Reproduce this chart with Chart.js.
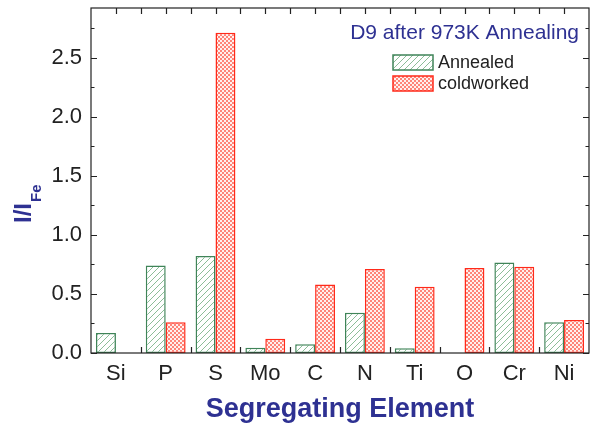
<!DOCTYPE html>
<html>
<head>
<meta charset="utf-8">
<script src="https://cdn.jsdelivr.net/npm/chart.js@4.4.0/dist/chart.umd.min.js"></script>
<style>
  html, body { margin: 0; padding: 0; background: #fff; }
  #wrap { width: 590px; height: 429px; position: relative; }
</style>
</head>
<body>
<div id="wrap"><canvas id="chart"></canvas></div>
<script>
// Segregation ratios, element peak intensity over Fe
const elements = ["Si", "P", "S", "Mo", "C", "N", "Ti", "O", "Cr", "Ni"];
const annealed = [0.17, 0.74, 0.82, 0.045, 0.075, 0.34, 0.04, 0, 0.765, 0.26];
const coldworked = [0, 0.26, 2.71, 0.12, 0.58, 0.71, 0.56, 0.72, 0.73, 0.28];
const yTicks = [0, 0.5, 1.0, 1.5, 2.0, 2.5];

const GREEN = "#3f8458";
const HATCH = "#8cbd98";
const RED = "#ff2a1a";
const BLUE = "#2e3192";
const FONT = "'Liberation Sans', Arial, sans-serif";

function hatchPattern() {
    const c = document.createElement("canvas");
    c.width = 6; c.height = 6;
    const g = c.getContext("2d");
    g.fillStyle = "#fff";
    g.fillRect(0, 0, 6, 6);
    g.strokeStyle = HATCH;
    g.lineWidth = 1;
    g.beginPath();
    g.moveTo(-1, 7); g.lineTo(7, -1);
    g.moveTo(-1, 1); g.lineTo(1, -1);
    g.moveTo(5, 7); g.lineTo(7, 5);
    g.stroke();
    return g.createPattern(c, "repeat");
}

function checkPattern() {
    const c = document.createElement("canvas");
    c.width = 4; c.height = 4;
    const g = c.getContext("2d");
    g.fillStyle = "#ff8478";
    g.fillRect(0, 0, 4, 4);
    g.fillStyle = "#fff0ee";
    g.fillRect(0, 0, 2, 2);
    g.fillRect(2, 2, 2, 2);
    return g.createPattern(c, "repeat");
}

const hatch = hatchPattern();
const check = checkPattern();

// frame, inward ticks, y title with subscript, header and legend
const decor = {
    id: "decor",
    afterDraw(chart) {
        const ctx = chart.ctx;
        const { left, right, top, bottom } = chart.chartArea;
        const x = chart.scales.x, y = chart.scales.y;
        ctx.save();
        ctx.strokeStyle = "#222";
        ctx.lineWidth = 1.2;
        ctx.strokeRect(left, top, right - left, bottom - top);

        ctx.beginPath();
        for (let v = 0; v <= 2.9; v += 0.25) {
            const py = Math.round(y.getPixelForValue(v)) + 0.5;
            const len = Math.abs(v * 2 - Math.round(v * 2)) < 1e-6 ? 6 : 3.5;
            ctx.moveTo(left, py); ctx.lineTo(left + len, py);
            ctx.moveTo(right, py); ctx.lineTo(right - len, py);
        }
        const step = (x.getPixelForValue(1) - x.getPixelForValue(0));
        for (let i = 0; i < elements.length; i++) {
            const cx = x.getPixelForValue(i);
            const bx = Math.round(cx + step / 2) + 0.5;
            const mx = Math.round(cx) + 0.5;
            if (i < elements.length - 1) {
                ctx.moveTo(bx, bottom); ctx.lineTo(bx, bottom - 6);
                ctx.moveTo(bx, top); ctx.lineTo(bx, top + 6);
            }
            ctx.moveTo(mx, top); ctx.lineTo(mx, top + 6);
        }
        ctx.stroke();

        // y title: I/I_Fe
        ctx.fillStyle = BLUE;
        ctx.translate(31, 223);
        ctx.rotate(-Math.PI / 2);
        ctx.font = "bold 24px " + FONT;
        ctx.textBaseline = "alphabetic";
        ctx.textAlign = "left";
        ctx.fillText("I/I", 0, 0);
        const w = ctx.measureText("I/I").width;
        ctx.font = "bold 15px " + FONT;
        ctx.fillText("Fe", w + 1, 10);
        ctx.setTransform(1, 0, 0, 1, 0, 0);

        // x title
        ctx.font = "bold 27px " + FONT;
        ctx.textAlign = "center";
        ctx.textBaseline = "middle";
        ctx.fillText("Segregating Element", (left + right) / 2, 410);

        // header
        ctx.font = "21px " + FONT;
        ctx.textAlign = "right";
        ctx.fillText("D9 after 973K Annealing", 579, 33);

        // legend
        const items = [
            { label: "Annealed", fill: hatch, stroke: GREEN, y: 55 },
            { label: "coldworked", fill: check, stroke: RED, y: 76 }
        ];
        ctx.textAlign = "left";
        ctx.font = "18px " + FONT;
        for (const it of items) {
            ctx.fillStyle = it.fill;
            ctx.fillRect(393, it.y, 40, 15);
            ctx.strokeStyle = it.stroke;
            ctx.lineWidth = 1.5;
            ctx.strokeRect(393, it.y, 40, 15);
            ctx.fillStyle = "#222";
            ctx.fillText(it.label, 438, it.y + 8);
        }
        ctx.restore();
    }
};

new Chart(document.getElementById("chart"), {
    type: "bar",
    data: {
        labels: elements,
        datasets: [
            {
                label: "Annealed",
                data: annealed,
                backgroundColor: hatch,
                borderColor: GREEN,
                borderWidth: (c) => (c.raw ? 1.5 : 0),
                borderSkipped: false,
                barPercentage: 1.0,
                categoryPercentage: 0.8
            },
            {
                label: "coldworked",
                data: coldworked,
                backgroundColor: check,
                borderColor: RED,
                borderWidth: (c) => (c.raw ? 1.5 : 0),
                borderSkipped: false,
                barPercentage: 1.0,
                categoryPercentage: 0.8
            }
        ]
    },
    options: {
        responsive: true,
        maintainAspectRatio: false,
        animation: false,
        layout: { padding: { top: 8, right: 1, left: 0, bottom: 0 } },
        plugins: {
            legend: { display: false },
            tooltip: { enabled: false }
        },
        scales: {
            x: {
                grid: { display: false, drawTicks: false },
                border: { display: false },
                ticks: {
                    color: "#222",
                    font: { family: FONT, size: 22 },
                    padding: 8,
                    maxRotation: 0
                },
                afterFit: (s) => { s.height = 76; s.paddingLeft = 0; s.paddingRight = 0; }
            },
            y: {
                min: 0,
                max: 2.92,
                grid: { display: false, drawTicks: false },
                border: { display: false },
                afterBuildTicks: (s) => { s.ticks = yTicks.map((v) => ({ value: v })); },
                ticks: {
                    color: "#222",
                    font: { family: FONT, size: 22 },
                    padding: 9,
                    callback: (v) => Number(v).toFixed(1)
                },
                afterFit: (s) => { s.width = 91; s.paddingTop = 0; s.paddingBottom = 0; }
            }
        }
    },
    plugins: [decor]
});
</script>
</body>
</html>
